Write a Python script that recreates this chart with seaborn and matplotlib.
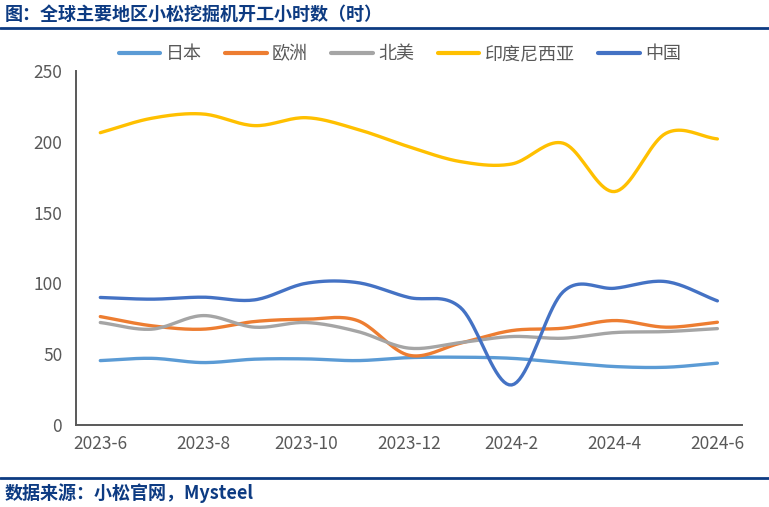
import numpy as np
import pandas as pd
import matplotlib
matplotlib.use('Agg')
import matplotlib.pyplot as plt
import seaborn as sns

# months on the x axis
months = ['2023-6', '2023-7', '2023-8', '2023-9', '2023-10', '2023-11', '2023-12',
          '2024-1', '2024-2', '2024-3', '2024-4', '2024-5', '2024-6']
tick_labels = ['2023-6', '2023-8', '2023-10', '2023-12', '2024-2', '2024-4', '2024-6']

# operating hours per region
japan = [45.4, 47.0, 44.0, 46.4, 46.6, 45.4, 47.5, 47.8, 47.0, 44.0, 41.2, 40.7, 43.6]
europe = [76.5, 70.0, 67.6, 73.0, 74.6, 73.7, 49.2, 57.7, 66.6, 68.3, 73.7, 69.0, 72.5]
north_america = [72.3, 67.6, 77.2, 69.0, 72.3, 66.0, 54.2, 58.1, 62.4, 61.2, 65.2, 65.9, 68.0]
indonesia = [206.4, 216.6, 219.6, 211.4, 217.0, 208.8, 196.5, 186.0, 184.3, 199.0, 164.8, 206.0, 202.0]
china = [90.0, 88.8, 90.2, 88.3, 100.0, 100.5, 90.0, 83.0, 28.2, 94.0, 96.5, 101.2, 87.6]

series = {'日本': japan, '欧洲': europe, '北美': north_america, '印度尼西亚': indonesia, '中国': china}
colors = ['#5B9BD5', '#ED7D31', '#A5A5A5', '#FFC000', '#4472C4']

NAVY = '#0D3B82'
GRAY = '#595959'


def smooth(y, n=20):
    # Catmull-Rom spline through the points (like Excel's smoothed line)
    y = np.asarray(y, dtype=float)
    p = np.concatenate([[2 * y[0] - y[1]], y, [2 * y[-1] - y[-2]]])
    xs, ys = [], []
    for i in range(len(y) - 1):
        p0, p1, p2, p3 = p[i], p[i + 1], p[i + 2], p[i + 3]
        t = np.linspace(0, 1, n, endpoint=False)
        v = 0.5 * ((2 * p1) + (-p0 + p2) * t + (2 * p0 - 5 * p1 + 4 * p2 - p3) * t ** 2
                   + (-p0 + 3 * p1 - 3 * p2 + p3) * t ** 3)
        xs.append(i + t)
        ys.append(v)
    xs.append([len(y) - 1])
    ys.append([y[-1]])
    return np.concatenate(xs), np.concatenate(ys)


frames = []
for name, vals in series.items():
    sx, sy = smooth(vals)
    frames.append(pd.DataFrame({'x': sx, 'y': sy, 'region': name}))
df = pd.concat(frames, ignore_index=True)

sns.set_style('white')
plt.rcParams['font.family'] = ['Noto Sans CJK SC', 'DejaVu Sans']

fig = plt.figure(figsize=(7.69, 5.07), dpi=100)
ax = fig.add_axes([0.099, 0.162, 0.866, 0.698])

sns.lineplot(data=df, x='x', y='y', hue='region', palette=colors, linewidth=2.4,
             sort=False, ax=ax, legend=True)

ax.set_xlim(-0.47, 12.48)
ax.set_ylim(0, 250)
ax.set_yticks(range(0, 251, 50))
ax.set_xticks(range(0, 13, 2))
ax.set_xticklabels(tick_labels)
ax.set_xlabel('')
ax.set_ylabel('')
ax.tick_params(axis='both', labelsize=12.5, colors=GRAY, labelcolor=GRAY)
ax.tick_params(axis='x', length=0, pad=7)
ax.tick_params(axis='y', direction='in', length=3, width=1.2, pad=10)
for s in ['top', 'right']:
    ax.spines[s].set_visible(False)
for s in ['left', 'bottom']:
    ax.spines[s].set_color(GRAY)
    ax.spines[s].set_linewidth(1.4)

leg = ax.legend(loc='center', bbox_to_anchor=(0.52, 0.893), bbox_transform=fig.transFigure,
                ncol=5, frameon=False, fontsize=13, handlelength=2.3, columnspacing=1.3,
                handletextpad=0.3)
for t in leg.get_texts():
    t.set_color(GRAY)
for h in leg.get_lines():
    h.set_linewidth(3)

# title and source with navy rules
fig.text(0.006, 0.972, '图：全球主要地区小松挖掘机开工小时数（时）', fontsize=13,
         fontweight='bold', color=NAVY, va='center', ha='left')
fig.add_artist(plt.Line2D([0, 1], [0.944, 0.944], color=NAVY, linewidth=2))
fig.add_artist(plt.Line2D([0, 1], [0.057, 0.057], color=NAVY, linewidth=2))
fig.text(0.006, 0.028, '数据来源：小松官网，Mysteel', fontsize=13,
         fontweight='bold', color=NAVY, va='center', ha='left')

fig.savefig('out.png', dpi=100)
